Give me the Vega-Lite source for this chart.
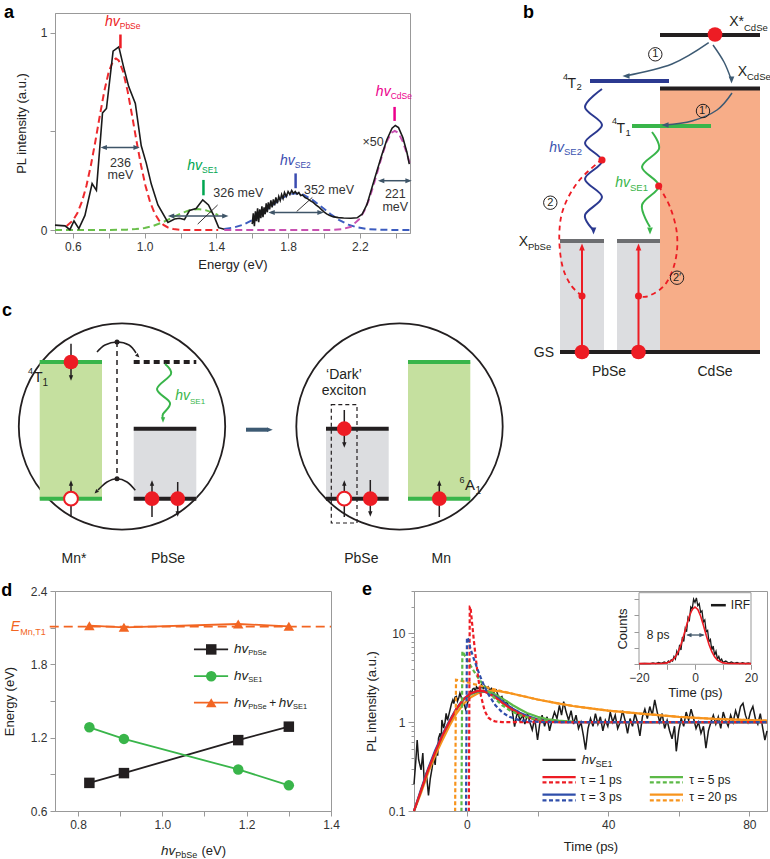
{
"$schema":"https://vega.github.io/schema/vega-lite/v6.json",
"padding":{"left":0,"top":3,"right":0,"bottom":0},
"config":{"font":"Liberation Sans","view":{"stroke":null},"axis":{"labelFontSize":12,"labelColor":"#333","titleFontSize":13,"titleFontWeight":"normal","titleColor":"#222","domainColor":"#999","tickColor":"#999","tickSize":5,"labelPadding":3,"grid":false,"labelFlush":false,"labelOverlap":false,"labelBound":false}},
"datasets":{
"a_fit":[
{"k":"PbSe","x":0.565,"y":0.02},{"k":"PbSe","x":0.6,"y":0.049},{"k":"PbSe","x":0.625,"y":0.086},{"k":"PbSe","x":0.65,"y":0.143},{"k":"PbSe","x":0.675,"y":0.223},{"k":"PbSe","x":0.7,"y":0.327},{"k":"PbSe","x":0.725,"y":0.449},{"k":"PbSe","x":0.75,"y":0.58},{"k":"PbSe","x":0.775,"y":0.704},{"k":"PbSe","x":0.8,"y":0.803},{"k":"PbSe","x":0.825,"y":0.86},{"k":"PbSe","x":0.84,"y":0.87},{"k":"PbSe","x":0.855,"y":0.86},{"k":"PbSe","x":0.88,"y":0.803},{"k":"PbSe","x":0.905,"y":0.704},{"k":"PbSe","x":0.93,"y":0.58},{"k":"PbSe","x":0.955,"y":0.449},{"k":"PbSe","x":0.98,"y":0.327},{"k":"PbSe","x":1.005,"y":0.223},{"k":"PbSe","x":1.03,"y":0.143},{"k":"PbSe","x":1.055,"y":0.086},{"k":"PbSe","x":1.08,"y":0.049},{"k":"PbSe","x":1.105,"y":0.026},{"k":"PbSe","x":1.13,"y":0.013},{"k":"PbSe","x":1.16,"y":0.005},{"k":"PbSe","x":1.2,"y":0.001},{"k":"PbSe","x":1.25,"y":0},{"k":"PbSe","x":1.41,"y":0},
{"k":"SE1","x":0.5,"y":0},{"k":"SE1","x":0.7,"y":0},{"k":"SE1","x":0.8,"y":0.0002},{"k":"SE1","x":0.9,"y":0.0018},{"k":"SE1","x":0.95,"y":0.0047},{"k":"SE1","x":1.0,"y":0.0107},{"k":"SE1","x":1.05,"y":0.0218},{"k":"SE1","x":1.1,"y":0.0389},{"k":"SE1","x":1.15,"y":0.0607},{"k":"SE1","x":1.2,"y":0.0833},{"k":"SE1","x":1.25,"y":0.1003},{"k":"SE1","x":1.296,"y":0.106},{"k":"SE1","x":1.34,"y":0.1007},{"k":"SE1","x":1.38,"y":0.0882},{"k":"SE1","x":1.41,"y":0.0755},
{"k":"SE2","x":1.444,"y":0.0055},{"k":"SE2","x":1.5,"y":0.0134},{"k":"SE2","x":1.55,"y":0.0273},{"k":"SE2","x":1.6,"y":0.0497},{"k":"SE2","x":1.65,"y":0.081},{"k":"SE2","x":1.7,"y":0.118},{"k":"SE2","x":1.75,"y":0.153},{"k":"SE2","x":1.8,"y":0.179},{"k":"SE2","x":1.843,"y":0.186},{"k":"SE2","x":1.886,"y":0.179},{"k":"SE2","x":1.936,"y":0.153},{"k":"SE2","x":1.986,"y":0.118},{"k":"SE2","x":2.036,"y":0.081},{"k":"SE2","x":2.086,"y":0.0497},{"k":"SE2","x":2.136,"y":0.0273},{"k":"SE2","x":2.186,"y":0.0134},{"k":"SE2","x":2.243,"y":0.0052},{"k":"SE2","x":2.3,"y":0.0017},{"k":"SE2","x":2.4,"y":0.0002},{"k":"SE2","x":2.48,"y":0},
{"k":"CdSe","x":1.444,"y":0},{"k":"CdSe","x":2.0,"y":0},{"k":"CdSe","x":2.05,"y":0.0006},{"k":"CdSe","x":2.1,"y":0.0036},{"k":"CdSe","x":2.15,"y":0.0166},{"k":"CdSe","x":2.2,"y":0.058},{"k":"CdSe","x":2.225,"y":0.097},{"k":"CdSe","x":2.25,"y":0.152},{"k":"CdSe","x":2.275,"y":0.222},{"k":"CdSe","x":2.3,"y":0.301},{"k":"CdSe","x":2.325,"y":0.381},{"k":"CdSe","x":2.35,"y":0.448},{"k":"CdSe","x":2.375,"y":0.492},{"k":"CdSe","x":2.395,"y":0.503},{"k":"CdSe","x":2.415,"y":0.492},{"k":"CdSe","x":2.44,"y":0.448},{"k":"CdSe","x":2.465,"y":0.381},{"k":"CdSe","x":2.48,"y":0.334}
],
"a_pl":[
{"seg":"1","x":0.5,"y":0.025},{"seg":"1","x":0.556,"y":0.021},{"seg":"1","x":0.583,"y":0.002},{"seg":"1","x":0.606,"y":0.046},{"seg":"1","x":0.633,"y":0.007},{"seg":"1","x":0.667,"y":0.074},{"seg":"1","x":0.707,"y":0.236},{"seg":"1","x":0.731,"y":0.201},{"seg":"1","x":0.765,"y":0.594},{"seg":"1","x":0.787,"y":0.616},{"seg":"1","x":0.824,"y":0.907},{"seg":"1","x":0.856,"y":0.928},{"seg":"1","x":0.881,"y":0.832},{"seg":"1","x":0.911,"y":0.727},{"seg":"1","x":0.948,"y":0.642},{"seg":"1","x":0.981,"y":0.427},{"seg":"1","x":1.009,"y":0.339},{"seg":"1","x":1.037,"y":0.233},{"seg":"1","x":1.074,"y":0.127},{"seg":"1","x":1.13,"y":0.039},{"seg":"1","x":1.167,"y":0.056},{"seg":"1","x":1.194,"y":0.06},{"seg":"1","x":1.222,"y":0.053},{"seg":"1","x":1.25,"y":0.099},{"seg":"1","x":1.287,"y":0.109},{"seg":"1","x":1.324,"y":0.153},{"seg":"1","x":1.356,"y":0.127},{"seg":"1","x":1.385,"y":0.074},{"seg":"1","x":1.413,"y":0.012},{"seg":"1","x":1.444,"y":0.004},
{"seg":"2","x":1.6,"y":0.03},{"seg":"2","x":1.606,"y":0.085},{"seg":"2","x":1.612,"y":0.02},{"seg":"2","x":1.618,"y":0.095},{"seg":"2","x":1.624,"y":0.045},{"seg":"2","x":1.63,"y":0.11},{"seg":"2","x":1.636,"y":0.04},{"seg":"2","x":1.642,"y":0.105},{"seg":"2","x":1.648,"y":0.06},{"seg":"2","x":1.654,"y":0.12},{"seg":"2","x":1.66,"y":0.065},{"seg":"2","x":1.666,"y":0.115},{"seg":"2","x":1.672,"y":0.08},{"seg":"2","x":1.678,"y":0.135},{"seg":"2","x":1.684,"y":0.09},{"seg":"2","x":1.69,"y":0.14},{"seg":"2","x":1.697,"y":0.105},{"seg":"2","x":1.704,"y":0.15},{"seg":"2","x":1.711,"y":0.115},{"seg":"2","x":1.718,"y":0.155},{"seg":"2","x":1.725,"y":0.125},{"seg":"2","x":1.732,"y":0.165},{"seg":"2","x":1.74,"y":0.135},{"seg":"2","x":1.748,"y":0.17},{"seg":"2","x":1.756,"y":0.15},{"seg":"2","x":1.764,"y":0.18},{"seg":"2","x":1.772,"y":0.16},{"seg":"2","x":1.78,"y":0.19},{"seg":"2","x":1.79,"y":0.17},{"seg":"2","x":1.8,"y":0.195},{"seg":"2","x":1.81,"y":0.18},{"seg":"2","x":1.82,"y":0.2},{"seg":"2","x":1.83,"y":0.185},{"seg":"2","x":1.84,"y":0.195},{"seg":"2","x":1.85,"y":0.182},{"seg":"2","x":1.86,"y":0.19},{"seg":"2","x":1.87,"y":0.175},{"seg":"2","x":1.88,"y":0.178},{"seg":"2","x":1.895,"y":0.165},{"seg":"2","x":1.91,"y":0.158},{"seg":"2","x":1.925,"y":0.148},{"seg":"2","x":1.94,"y":0.14},{"seg":"2","x":1.955,"y":0.128},{"seg":"2","x":1.97,"y":0.118},{"seg":"2","x":1.985,"y":0.105},{"seg":"2","x":2.0,"y":0.092},{"seg":"2","x":2.015,"y":0.082},{"seg":"2","x":2.03,"y":0.075},{"seg":"2","x":2.05,"y":0.068},{"seg":"2","x":2.08,"y":0.063},{"seg":"2","x":2.11,"y":0.061},{"seg":"2","x":2.15,"y":0.06},{"seg":"2","x":2.185,"y":0.062},{"seg":"2","x":2.213,"y":0.08},{"seg":"2","x":2.24,"y":0.13},{"seg":"2","x":2.268,"y":0.216},{"seg":"2","x":2.296,"y":0.3},{"seg":"2","x":2.324,"y":0.384},{"seg":"2","x":2.352,"y":0.46},{"seg":"2","x":2.38,"y":0.516},{"seg":"2","x":2.398,"y":0.53},{"seg":"2","x":2.416,"y":0.519},{"seg":"2","x":2.44,"y":0.469},{"seg":"2","x":2.463,"y":0.393},{"seg":"2","x":2.476,"y":0.334}
],
"d_pts":[
{"s":"PbSe","x":0.827,"y":0.83},{"s":"PbSe","x":0.909,"y":0.91},{"s":"PbSe","x":1.18,"y":1.18},{"s":"PbSe","x":1.3,"y":1.29},
{"s":"SE1","x":0.827,"y":1.285},{"s":"SE1","x":0.909,"y":1.19},{"s":"SE1","x":1.18,"y":0.94},{"s":"SE1","x":1.3,"y":0.81},
{"s":"sum","x":0.827,"y":2.116},{"s":"sum","x":0.909,"y":2.103},{"s":"sum","x":1.18,"y":2.13},{"s":"sum","x":1.3,"y":2.111}
],
"d_leg":[
{"s":"PbSe","x":1.075,"x2":1.156,"xm":1.116,"y":1.922},{"s":"SE1","x":1.075,"x2":1.156,"xm":1.116,"y":1.703},{"s":"sum","x":1.075,"x2":1.156,"xm":1.116,"y":1.486}
],
"e_pl":[
{"x":-15.0,"y":0.2},{"x":-14.5,"y":0.36},{"x":-14.1,"y":0.63},{"x":-13.7,"y":0.38},{"x":-13.0,"y":0.29},{"x":-12.5,"y":0.45},{"x":-12.1,"y":0.21},{"x":-11.5,"y":0.27},{"x":-10.9,"y":0.15},{"x":-10.4,"y":0.23},{"x":-9.9,"y":0.3},{"x":-9.45,"y":0.41},{"x":-9.0,"y":0.33},{"x":-8.7,"y":0.49},{"x":-8.3,"y":0.42},{"x":-8.05,"y":0.66},{"x":-7.6,"y":0.75},{"x":-7.3,"y":0.62},{"x":-7.1,"y":1.06},{"x":-6.6,"y":0.86},{"x":-6.2,"y":1.0},{"x":-5.9,"y":1.26},{"x":-5.5,"y":1.05},{"x":-5.2,"y":1.18},{"x":-4.8,"y":1.37},{"x":-4.4,"y":1.6},{"x":-4.0,"y":1.78},{"x":-3.7,"y":1.62},{"x":-3.4,"y":1.91},{"x":-3.0,"y":1.95},{"x":-2.7,"y":1.72},{"x":-2.3,"y":1.9},{"x":-2.0,"y":2.12},{"x":-1.5,"y":1.85},{"x":-1.2,"y":1.6},{"x":-0.8,"y":1.63},{"x":-0.4,"y":1.4},{"x":-0.1,"y":1.5},{"x":0.3,"y":1.72},{"x":0.65,"y":1.95},{"x":1.0,"y":2.2},{"x":1.3,"y":2.1},{"x":1.6,"y":2.35},{"x":2.0,"y":2.41},{"x":2.4,"y":2.25},{"x":2.7,"y":2.51},{"x":3.1,"y":2.38},{"x":3.5,"y":2.45},{"x":3.8,"y":2.3},{"x":4.1,"y":2.63},{"x":4.6,"y":2.4},{"x":5.05,"y":2.55},{"x":5.5,"y":2.35},{"x":6.0,"y":2.5},{"x":6.5,"y":2.28},{"x":6.9,"y":2.4},{"x":7.5,"y":2.15},{"x":8.3,"y":2.3},{"x":8.8,"y":2.0},{"x":9.3,"y":1.86},{"x":9.9,"y":1.95},{"x":10.7,"y":1.6},{"x":11.3,"y":1.7},{"x":12.1,"y":1.37},{"x":12.7,"y":1.45},{"x":13.5,"y":0.89},{"x":14.0,"y":1.15},{"x":14.4,"y":1.3},{"x":15.0,"y":1.05},{"x":15.8,"y":1.2},{"x":16.4,"y":0.95},{"x":17.2,"y":1.25},{"x":17.8,"y":1.0},{"x":18.5,"y":0.82},{"x":19.2,"y":1.1},{"x":20.0,"y":0.63},{"x":20.6,"y":0.95},{"x":21.3,"y":1.2},{"x":22.0,"y":0.9},{"x":22.7,"y":1.15},{"x":23.4,"y":0.8},{"x":24.1,"y":1.05},{"x":24.8,"y":1.3},{"x":25.5,"y":1.1},{"x":26.2,"y":1.55},{"x":26.8,"y":1.2},{"x":27.4,"y":1.7},{"x":28.1,"y":1.3},{"x":28.8,"y":1.05},{"x":29.5,"y":1.35},{"x":30.2,"y":0.95},{"x":30.9,"y":1.2},{"x":31.6,"y":0.85},{"x":32.3,"y":1.0},{"x":33.0,"y":0.7},{"x":33.6,"y":0.49},{"x":34.3,"y":0.85},{"x":35.0,"y":1.1},{"x":35.7,"y":0.9},{"x":36.4,"y":1.25},{"x":37.1,"y":0.95},{"x":37.8,"y":1.15},{"x":38.5,"y":0.8},{"x":39.2,"y":1.05},{"x":39.9,"y":0.9},{"x":40.6,"y":1.3},{"x":41.3,"y":1.0},{"x":42.0,"y":1.2},{"x":42.7,"y":0.85},{"x":43.4,"y":1.0},{"x":44.1,"y":1.35},{"x":44.8,"y":1.05},{"x":45.5,"y":0.75},{"x":46.2,"y":1.1},{"x":46.9,"y":0.9},{"x":47.6,"y":1.25},{"x":48.3,"y":1.0},{"x":49.0,"y":0.7},{"x":49.7,"y":1.15},{"x":50.4,"y":1.4},{"x":51.1,"y":1.1},{"x":51.8,"y":1.5},{"x":52.5,"y":1.2},{"x":53.2,"y":1.78},{"x":53.9,"y":1.3},{"x":54.6,"y":1.0},{"x":55.3,"y":1.25},{"x":56.0,"y":0.85},{"x":56.7,"y":1.05},{"x":57.4,"y":0.8},{"x":58.1,"y":0.65},{"x":58.8,"y":0.9},{"x":59.3,"y":0.47},{"x":60.0,"y":0.8},{"x":60.7,"y":1.1},{"x":61.4,"y":0.9},{"x":62.1,"y":1.3},{"x":62.8,"y":1.05},{"x":63.5,"y":1.4},{"x":64.2,"y":1.1},{"x":64.9,"y":0.85},{"x":65.6,"y":1.0},{"x":66.3,"y":0.75},{"x":67.0,"y":0.9},{"x":67.7,"y":0.51},{"x":68.4,"y":0.8},{"x":69.1,"y":1.0},{"x":69.8,"y":1.2},{"x":70.5,"y":0.95},{"x":71.2,"y":1.15},{"x":71.9,"y":0.85},{"x":72.6,"y":1.3},{"x":73.3,"y":1.05},{"x":74.0,"y":0.9},{"x":74.7,"y":1.2},{"x":75.4,"y":1.0},{"x":76.1,"y":1.35},{"x":76.8,"y":1.1},{"x":77.5,"y":1.5},{"x":78.2,"y":1.63},{"x":78.9,"y":1.2},{"x":79.6,"y":1.0},{"x":80.3,"y":1.3},{"x":81.0,"y":1.5},{"x":81.7,"y":1.1},{"x":82.4,"y":0.95},{"x":83.1,"y":1.25},{"x":83.8,"y":0.85},{"x":84.4,"y":0.63},{"x":85.0,"y":0.8}
],
"e_sol":[
{"m":"t20","x":-15,"y":0.1},{"m":"t20","x":-13,"y":0.16},{"m":"t20","x":-11,"y":0.27},{"m":"t20","x":-9,"y":0.42},{"m":"t20","x":-7,"y":0.62},{"m":"t20","x":-5,"y":0.9},{"m":"t20","x":-3,"y":1.25},{"m":"t20","x":-1,"y":1.6},{"m":"t20","x":1,"y":1.9},{"m":"t20","x":3,"y":2.1},{"m":"t20","x":5,"y":2.22},{"m":"t20","x":7,"y":2.27},{"m":"t20","x":9,"y":2.24},{"m":"t20","x":12,"y":2.13},{"m":"t20","x":16,"y":1.96},{"m":"t20","x":20,"y":1.8},{"m":"t20","x":25,"y":1.65},{"m":"t20","x":30,"y":1.52},{"m":"t20","x":35,"y":1.43},{"m":"t20","x":40,"y":1.35},{"m":"t20","x":50,"y":1.24},{"m":"t20","x":60,"y":1.15},{"m":"t20","x":70,"y":1.09},{"m":"t20","x":85,"y":1.04},
{"m":"t5","x":-15,"y":0.1},{"m":"t5","x":-13,"y":0.17},{"m":"t5","x":-11,"y":0.29},{"m":"t5","x":-9,"y":0.46},{"m":"t5","x":-7,"y":0.7},{"m":"t5","x":-5,"y":1.0},{"m":"t5","x":-3,"y":1.38},{"m":"t5","x":-1,"y":1.78},{"m":"t5","x":1,"y":2.05},{"m":"t5","x":3,"y":2.2},{"m":"t5","x":5,"y":2.24},{"m":"t5","x":7,"y":2.15},{"m":"t5","x":9,"y":1.95},{"m":"t5","x":11,"y":1.75},{"m":"t5","x":13,"y":1.55},{"m":"t5","x":15,"y":1.4},{"m":"t5","x":17,"y":1.27},{"m":"t5","x":20,"y":1.15},{"m":"t5","x":23,"y":1.08},{"m":"t5","x":26,"y":1.04},{"m":"t5","x":30,"y":1.01},{"m":"t5","x":85,"y":1.0},
{"m":"t3","x":-15,"y":0.1},{"m":"t3","x":-13,"y":0.175},{"m":"t3","x":-11,"y":0.3},{"m":"t3","x":-9,"y":0.48},{"m":"t3","x":-7,"y":0.72},{"m":"t3","x":-5,"y":1.03},{"m":"t3","x":-3,"y":1.42},{"m":"t3","x":-1,"y":1.82},{"m":"t3","x":1,"y":2.1},{"m":"t3","x":3,"y":2.24},{"m":"t3","x":5,"y":2.22},{"m":"t3","x":7,"y":2.05},{"m":"t3","x":9,"y":1.85},{"m":"t3","x":11,"y":1.6},{"m":"t3","x":13,"y":1.42},{"m":"t3","x":15,"y":1.28},{"m":"t3","x":17,"y":1.18},{"m":"t3","x":20,"y":1.08},{"m":"t3","x":23,"y":1.03},{"m":"t3","x":27,"y":1.0},{"m":"t3","x":85,"y":1.0},
{"m":"t1","x":-15,"y":0.1},{"m":"t1","x":-13,"y":0.17},{"m":"t1","x":-11,"y":0.29},{"m":"t1","x":-9,"y":0.46},{"m":"t1","x":-7,"y":0.7},{"m":"t1","x":-5,"y":1.0},{"m":"t1","x":-3,"y":1.4},{"m":"t1","x":-1,"y":1.8},{"m":"t1","x":1,"y":2.1},{"m":"t1","x":3,"y":2.25},{"m":"t1","x":4.5,"y":2.25},{"m":"t1","x":6,"y":2.12},{"m":"t1","x":8,"y":1.9},{"m":"t1","x":10,"y":1.65},{"m":"t1","x":12,"y":1.45},{"m":"t1","x":14,"y":1.3},{"m":"t1","x":16,"y":1.18},{"m":"t1","x":19,"y":1.08},{"m":"t1","x":22,"y":1.03},{"m":"t1","x":26,"y":1.0},{"m":"t1","x":85,"y":1.0}
],
"e_dash":[
{"m":"t20","x":-3.4,"y":0.05},{"m":"t20","x":-3.1,"y":3.0},{"m":"t20","x":-2,"y":2.95},{"m":"t20","x":0,"y":2.82},{"m":"t20","x":2,"y":2.68},{"m":"t20","x":5,"y":2.5},{"m":"t20","x":8,"y":2.33},{"m":"t20","x":12,"y":2.13},{"m":"t20","x":16,"y":1.96},{"m":"t20","x":20,"y":1.8},{"m":"t20","x":25,"y":1.65},{"m":"t20","x":30,"y":1.52},{"m":"t20","x":40,"y":1.35},{"m":"t20","x":50,"y":1.24},{"m":"t20","x":60,"y":1.15},{"m":"t20","x":70,"y":1.09},{"m":"t20","x":85,"y":1.04},
{"m":"t5","x":-1.6,"y":0.05},{"m":"t5","x":-1.3,"y":6.3},{"m":"t5","x":0,"y":5.1},{"m":"t5","x":1,"y":4.35},{"m":"t5","x":2,"y":3.74},{"m":"t5","x":3,"y":3.24},{"m":"t5","x":4,"y":2.84},{"m":"t5","x":5,"y":2.5},{"m":"t5","x":6,"y":2.23},{"m":"t5","x":8,"y":1.83},{"m":"t5","x":10,"y":1.55},{"m":"t5","x":12,"y":1.37},{"m":"t5","x":15,"y":1.2},{"m":"t5","x":18,"y":1.11},{"m":"t5","x":22,"y":1.05},{"m":"t5","x":27,"y":1.02},{"m":"t5","x":35,"y":1.0},{"m":"t5","x":85,"y":1.0},
{"m":"t1","x":0.5,"y":0.05},{"m":"t1","x":0.8,"y":20},{"m":"t1","x":1.0,"y":20},{"m":"t1","x":1.5,"y":12.5},{"m":"t1","x":2,"y":8},{"m":"t1","x":2.5,"y":5.3},{"m":"t1","x":3,"y":3.6},{"m":"t1","x":3.5,"y":2.6},{"m":"t1","x":4,"y":1.95},{"m":"t1","x":5,"y":1.35},{"m":"t1","x":6,"y":1.13},{"m":"t1","x":7,"y":1.05},{"m":"t1","x":8,"y":1.02},{"m":"t1","x":10,"y":1.0},{"m":"t1","x":85,"y":1.0},
{"m":"t3","x":-0.3,"y":0.05},{"m":"t3","x":0.0,"y":9.0},{"m":"t3","x":0.4,"y":8.5},{"m":"t3","x":1,"y":6.7},{"m":"t3","x":2,"y":5.1},{"m":"t3","x":3,"y":3.94},{"m":"t3","x":4,"y":3.1},{"m":"t3","x":5,"y":2.5},{"m":"t3","x":6,"y":2.08},{"m":"t3","x":8,"y":1.56},{"m":"t3","x":10,"y":1.29},{"m":"t3","x":12,"y":1.15},{"m":"t3","x":15,"y":1.05},{"m":"t3","x":18,"y":1.02},{"m":"t3","x":22,"y":1.0},{"m":"t3","x":85,"y":1.0}
],
"irf":[
{"x":-20,"y":0.01},{"x":-18,"y":0.015},{"x":-16,"y":0.01},{"x":-15,"y":0.02},{"x":-14,"y":0.012},{"x":-13,"y":0.03},{"x":-12,"y":0.015},{"x":-11,"y":0.035},{"x":-10,"y":0.02},{"x":-9.5,"y":0.05},{"x":-9,"y":0.03},{"x":-8.5,"y":0.07},{"x":-8,"y":0.05},{"x":-7.5,"y":0.12},{"x":-7,"y":0.08},{"x":-6.5,"y":0.2},{"x":-6,"y":0.14},{"x":-5.5,"y":0.3},{"x":-5,"y":0.22},{"x":-4.5,"y":0.42},{"x":-4,"y":0.35},{"x":-3.5,"y":0.55},{"x":-3,"y":0.5},{"x":-2.5,"y":0.72},{"x":-2,"y":0.68},{"x":-1.5,"y":0.88},{"x":-1,"y":0.85},{"x":-0.5,"y":1.0},{"x":0,"y":0.95},{"x":0.5,"y":1.02},{"x":1,"y":0.9},{"x":1.5,"y":0.93},{"x":2,"y":0.8},{"x":2.5,"y":0.82},{"x":3,"y":0.65},{"x":3.5,"y":0.68},{"x":4,"y":0.5},{"x":4.5,"y":0.52},{"x":5,"y":0.35},{"x":5.5,"y":0.38},{"x":6,"y":0.22},{"x":6.5,"y":0.28},{"x":7,"y":0.14},{"x":7.5,"y":0.2},{"x":8,"y":0.08},{"x":8.5,"y":0.12},{"x":9,"y":0.05},{"x":9.5,"y":0.08},{"x":10,"y":0.03},{"x":11,"y":0.05},{"x":12,"y":0.02},{"x":13,"y":0.035},{"x":14,"y":0.015},{"x":15,"y":0.03},{"x":16,"y":0.012},{"x":17,"y":0.025},{"x":18,"y":0.01},{"x":19,"y":0.02},{"x":20,"y":0.01}
],
"irf_fit":[
{"x":-20,"y":0.01},{"x":-12,"y":0.013},{"x":-10,"y":0.022},{"x":-8,"y":0.065},{"x":-7,"y":0.115},{"x":-6,"y":0.194},{"x":-5,"y":0.305},{"x":-4,"y":0.445},{"x":-3,"y":0.6},{"x":-2,"y":0.742},{"x":-1,"y":0.843},{"x":0,"y":0.88},{"x":1,"y":0.843},{"x":2,"y":0.742},{"x":3,"y":0.6},{"x":4,"y":0.445},{"x":5,"y":0.305},{"x":6,"y":0.194},{"x":7,"y":0.115},{"x":8,"y":0.065},{"x":10,"y":0.022},{"x":12,"y":0.013},{"x":20,"y":0.01}
]
},
"resolve":{"scale":{"color":"independent","shape":"independent"}},
"vconcat":[
{"resolve":{"scale":{"color":"independent","shape":"independent"}},"hconcat":[
 {"resolve":{"scale":{"color":"independent","shape":"independent"}},"vconcat":[
  {
   "width":355,"height":220,"view":{"stroke":"#999"},
   "encoding":{
    "x":{"field":"x","type":"quantitative","scale":{"domain":[0.5,2.48],"nice":false,"zero":false},"axis":{"values":[0.6,0.8,1.0,1.2,1.4,1.6,1.8,2.0,2.2,2.4],"format":".1f","labelExpr":"indexof(['0.6','1.0','1.4','1.8','2.2'], datum.label) >= 0 ? datum.label : ''","title":"Energy (eV)","titlePadding":6}},
    "y":{"field":"y","type":"quantitative","scale":{"domain":[-0.015,1.1],"nice":false,"zero":false},"axis":{"values":[0,0.5,1],"format":"~g","labelExpr":"datum.value == 0.5 ? '' : datum.label","title":"PL intensity (a.u.)","titlePadding":12}}
   },
   "resolve":{"scale":{"color":"independent"}},
   "layer":[
    {"data":{"name":"a_fit"},"mark":{"type":"line","strokeDash":[7,4],"strokeWidth":2},"encoding":{"color":{"field":"k","type":"nominal","scale":{"domain":["PbSe","SE1","SE2","CdSe"],"range":["#ee2a2e","#6abf4b","#3c5cbf","#c851b1"]},"legend":null}}},
    {"data":{"name":"a_pl"},"mark":{"type":"line","color":"#1a1a1a","strokeWidth":1.6},"encoding":{"detail":{"field":"seg","type":"nominal"}}},
    {"data":{"values":[{"k":"PbSe","x":0.865,"y":0.921,"y2":0.991},{"k":"SE1","x":1.328,"y":0.176,"y2":0.254},{"k":"SE2","x":1.842,"y":0.212,"y2":0.287},{"k":"CdSe","x":2.394,"y":0.553,"y2":0.624}]},"mark":{"type":"rule","strokeWidth":2.5},"encoding":{"y2":{"field":"y2"},"color":{"field":"k","type":"nominal","scale":{"domain":["PbSe","SE1","SE2","CdSe"],"range":["#ed1c24","#00a651","#3b4cb0","#ec008c"]},"legend":null}}},
    {"data":{"values":[{"x":0.768,"x2":0.959,"y":0.418},{"x":1.143,"x2":1.454,"y":0.071},{"x":1.704,"x2":1.985,"y":0.089},{"x":2.315,"x2":2.476,"y":0.25}]},"mark":{"type":"rule","color":"#3f5568","strokeWidth":1.5},"encoding":{"x2":{"field":"x2"}}},
    {"data":{"values":[{"x":0.772,"y":0.418,"dir":"left"},{"x":0.955,"y":0.418,"dir":"right"},{"x":1.147,"y":0.071,"dir":"left"},{"x":1.45,"y":0.071,"dir":"right"},{"x":1.708,"y":0.089,"dir":"left"},{"x":1.981,"y":0.089,"dir":"right"},{"x":2.319,"y":0.25,"dir":"left"},{"x":2.472,"y":0.25,"dir":"right"}]},"mark":{"type":"point","filled":true,"opacity":1,"color":"#3f5568","size":40},"encoding":{"shape":{"field":"dir","type":"nominal","scale":{"domain":["up","down","left","right","dl","dr"],"range":["M0,-1L0.8,1L-0.8,1Z","M0,1L0.8,-1L-0.8,-1Z","M-1,0L1,-0.8L1,0.8Z","M1,0L-1,-0.8L-1,0.8Z","M-0.71,0.71L0.92,0.08L-0.08,-0.92Z","M0.71,0.71L-0.92,0.08L0.08,-0.92Z"]},"legend":null}}},
    {"data":{"values":[{"x":1.296,"y":0.03,"x2":1.407,"y2":0.127},{"x":1.848,"y":0.094,"x2":1.935,"y2":0.165}]},"mark":{"type":"rule","color":"#231f20","strokeWidth":0.9},"encoding":{"x2":{"field":"x2"},"y2":{"field":"y2"}}},
    {"data":{"values":[{"x":0.865,"y":0.342,"t":"236"},{"x":0.865,"y":0.277,"t":"meV"},{"x":1.522,"y":0.19,"t":"326 meV"},{"x":2.028,"y":0.205,"t":"352 meV"},{"x":2.274,"y":0.444,"t":"×50"},{"x":2.398,"y":0.182,"t":"221"},{"x":2.398,"y":0.115,"t":"meV"}]},"mark":{"type":"text","fontSize":12.5,"color":"#333","baseline":"middle","align":"center"},"encoding":{"text":{"field":"t"}}},
    {"data":{"values":[{"x":0.861,"y":1.035,"t":"hv","k":"PbSe"},{"x":1.32,"y":0.303,"t":"hv","k":"SE1"},{"x":1.837,"y":0.33,"t":"hv","k":"SE2"},{"x":2.372,"y":0.68,"t":"hv","k":"CdSe"}]},"mark":{"type":"text","fontSize":14,"fontStyle":"italic","align":"right","baseline":"alphabetic"},"encoding":{"text":{"field":"t"},"color":{"field":"k","type":"nominal","scale":{"domain":["PbSe","SE1","SE2","CdSe"],"range":["#ed1c24","#00a651","#3b4cb0","#ec008c"]},"legend":null}}},
    {"data":{"values":[{"x":0.861,"y":1.02,"t":"PbSe","k":"PbSe"},{"x":1.32,"y":0.288,"t":"SE1","k":"SE1"},{"x":1.837,"y":0.315,"t":"SE2","k":"SE2"},{"x":2.372,"y":0.665,"t":"CdSe","k":"CdSe"}]},"mark":{"type":"text","fontSize":8.5,"align":"left","baseline":"alphabetic"},"encoding":{"text":{"field":"t"},"color":{"field":"k","type":"nominal","scale":{"domain":["PbSe","SE1","SE2","CdSe"],"range":["#ed1c24","#00a651","#3b4cb0","#ec008c"]},"legend":null}}},
    {"data":{"values":[{"x":0.2156,"y":1.1456,"t":"a"}]},"mark":{"type":"text","fontSize":18,"fontWeight":"bold","align":"left","baseline":"top","color":"#000"},"encoding":{"text":{"field":"t"}}}
   ]
  },
  {
   "width":462,"height":268,
   "encoding":{
    "x":{"field":"x","type":"quantitative","scale":{"domain":[53,515],"nice":false,"zero":false},"axis":null},
    "y":{"field":"y","type":"quantitative","scale":{"domain":[298,566],"nice":false,"zero":false,"reverse":true},"axis":null}
   },
   "layer":[
    {"data":{"values":[{"x":120,"y":424.5},{"x":397.5,"y":424.5}]},"mark":{"type":"point","filled":false,"color":"#231f20","strokeWidth":1.8,"size":42600,"opacity":1}},
    {"data":{"values":[{"x":37.7,"x2":100,"y":360,"y2":496.7,"k":"lgreen"},{"x":406,"x2":468.3,"y":360,"y2":496.7,"k":"lgreen"},{"x":131.7,"x2":194.3,"y":426.7,"y2":496.7,"k":"lgray"},{"x":324,"x2":386.7,"y":426.7,"y2":496.7,"k":"lgray"}]},"mark":{"type":"rect"},"encoding":{"x2":{"field":"x2"},"y2":{"field":"y2"},"color":{"field":"k","type":"nominal","scale":{"domain":["ink","red","blue","green","slate","gray","salmon","lgray","lgreen","sblue"],"range":["#231f20","#ed1c24","#2b3990","#39b54a","#3d5a73","#6d6e71","#f7ad88","#dcdde0","#c5e09f","#3a53b0"]},"legend":null}}},
    {"data":{"values":[{"x":329.3,"x2":355,"y":402.7,"y2":521}]},"mark":{"type":"rect","filled":false,"stroke":"#231f20","strokeWidth":1.2,"strokeDash":[4,3]},"encoding":{"x2":{"field":"x2"},"y2":{"field":"y2"}}},
    {"data":{"values":[{"x":37.7,"x2":100,"y":360,"k":"green"},{"x":37.7,"x2":100,"y":496.7,"k":"green"},{"x":406,"x2":468.3,"y":360,"k":"green"},{"x":406,"x2":468.3,"y":496.7,"k":"green"},{"x":131.7,"x2":194.3,"y":426.7,"k":"ink"},{"x":131.7,"x2":194.3,"y":496.7,"k":"ink"},{"x":324,"x2":386.7,"y":426.7,"k":"ink"},{"x":324,"x2":386.7,"y":496.7,"k":"ink"},{"x":244,"x2":266,"y":427.7,"k":"slate"}]},"mark":{"type":"rule","strokeWidth":4},"encoding":{"x2":{"field":"x2"},"color":{"field":"k","type":"nominal","scale":{"domain":["ink","red","blue","green","slate","gray","salmon","lgray","lgreen","sblue"],"range":["#231f20","#ed1c24","#2b3990","#39b54a","#3d5a73","#6d6e71","#f7ad88","#dcdde0","#c5e09f","#3a53b0"]},"legend":null}}},
    {"data":{"values":[{"x":131.7,"x2":194.3,"y":360}]},"mark":{"type":"rule","strokeWidth":4,"strokeDash":[6,4],"color":"#231f20"},"encoding":{"x2":{"field":"x2"}}},
    {"data":{"values":[{"x":115,"y":340,"y2":476.7}]},"mark":{"type":"rule","strokeWidth":1.5,"strokeDash":[5,4],"color":"#231f20"},"encoding":{"y2":{"field":"y2"}}},
    {"data":{"values":[{"x":69,"y":341.7,"y2":374},{"x":69,"y":515,"y2":483},{"x":150,"y":515,"y2":483},{"x":175.7,"y":480,"y2":510},{"x":342.3,"y":408,"y2":441},{"x":342.3,"y":515,"y2":483},{"x":368.3,"y":478,"y2":510},{"x":437.3,"y":515,"y2":483}]},"mark":{"type":"rule","strokeWidth":1.5,"color":"#231f20"},"encoding":{"y2":{"field":"y2"}}},
    {"data":{"values":[{"id":"top","x":95,"y":350},{"id":"top","x":103,"y":343},{"id":"top","x":115,"y":340},{"id":"top","x":127,"y":343},{"id":"top","x":134,"y":351},{"id":"bot","x":133.3,"y":488.3},{"id":"bot","x":125,"y":480},{"id":"bot","x":115,"y":476.7},{"id":"bot","x":105,"y":480},{"id":"bot","x":96,"y":488}]},"mark":{"type":"line","interpolate":"cardinal","strokeWidth":1.5,"color":"#231f20"},"encoding":{"detail":{"field":"id","type":"nominal"},"order":{"value":null}}},
    {"data":{"values":[{"x":163,"y":362},{"x":169,"y":372},{"x":155,"y":387},{"x":168,"y":401},{"x":161,"y":412},{"x":161,"y":416}]},"mark":{"type":"line","interpolate":"cardinal","strokeWidth":2,"color":"#39b54a"},"encoding":{"order":{"value":null}}},
    {"data":{"values":[{"x":69,"y":376,"dir":"down","k":"ink"},{"x":69,"y":481,"dir":"up","k":"ink"},{"x":150,"y":481,"dir":"up","k":"ink"},{"x":175.7,"y":512,"dir":"down","k":"ink"},{"x":342.3,"y":443,"dir":"down","k":"ink"},{"x":342.3,"y":481,"dir":"up","k":"ink"},{"x":368.3,"y":512,"dir":"down","k":"ink"},{"x":437.3,"y":481,"dir":"up","k":"ink"},{"x":135.5,"y":353.5,"dir":"dr","k":"ink"},{"x":94.5,"y":489.5,"dir":"dl","k":"ink"},{"x":161,"y":418,"dir":"down","k":"green"},{"x":268,"y":427.7,"dir":"right","k":"slate"}]},"mark":{"type":"point","filled":true,"opacity":1,"size":30},"encoding":{"shape":{"field":"dir","type":"nominal","scale":{"domain":["up","down","left","right","dl","dr"],"range":["M0,-1L0.8,1L-0.8,1Z","M0,1L0.8,-1L-0.8,-1Z","M-1,0L1,-0.8L1,0.8Z","M1,0L-1,-0.8L-1,0.8Z","M-0.71,0.71L0.92,0.08L-0.08,-0.92Z","M0.71,0.71L-0.92,0.08L0.08,-0.92Z"]},"legend":null},"color":{"field":"k","type":"nominal","scale":{"domain":["ink","red","blue","green","slate","gray","salmon","lgray","lgreen","sblue"],"range":["#231f20","#ed1c24","#2b3990","#39b54a","#3d5a73","#6d6e71","#f7ad88","#dcdde0","#c5e09f","#3a53b0"]},"legend":null}}},
    {"data":{"values":[{"x":69,"y":360},{"x":150,"y":496.7},{"x":175.7,"y":496.7},{"x":342.3,"y":426.7},{"x":368.3,"y":496.7},{"x":437.3,"y":496.7}]},"mark":{"type":"point","filled":true,"opacity":1,"color":"#ed1c24","size":216}},
    {"data":{"values":[{"x":69,"y":496.7},{"x":342.3,"y":496.7}]},"mark":{"type":"point","filled":true,"opacity":1,"fill":"#ffffff","stroke":"#ed1c24","strokeWidth":2,"size":190}},
    {"data":{"values":[{"x":115,"y":340},{"x":115,"y":476.7}]},"mark":{"type":"point","filled":true,"opacity":1,"color":"#231f20","size":25}},
    {"data":{"values":[{"x":31.5,"y":380,"t":"T"},{"x":463,"y":488,"t":"A"}]},"mark":{"type":"text","fontSize":15,"align":"left","baseline":"alphabetic","color":"#231f20"},"encoding":{"text":{"field":"t"}}},
    {"data":{"values":[{"x":40.5,"y":384,"t":"1"},{"x":473.5,"y":492,"t":"1"}]},"mark":{"type":"text","fontSize":10,"align":"left","baseline":"alphabetic","color":"#231f20"},"encoding":{"text":{"field":"t"}}},
    {"data":{"values":[{"x":31,"y":372,"t":"4"},{"x":462.5,"y":481,"t":"6"}]},"mark":{"type":"text","fontSize":9,"align":"right","baseline":"alphabetic","color":"#231f20"},"encoding":{"text":{"field":"t"}}},
    {"data":{"values":[{"x":188,"y":398,"t":"hv"}]},"mark":{"type":"text","fontSize":14,"fontStyle":"italic","align":"right","baseline":"alphabetic","color":"#39b54a"},"encoding":{"text":{"field":"t"}}},
    {"data":{"values":[{"x":188,"y":401.5,"t":"SE1"}]},"mark":{"type":"text","fontSize":8,"align":"left","baseline":"alphabetic","color":"#39b54a"},"encoding":{"text":{"field":"t"}}},
    {"data":{"values":[{"x":342,"y":377,"t":"‘Dark’"},{"x":342,"y":393,"t":"exciton"},{"x":72,"y":561,"t":"Mn*"},{"x":166,"y":561,"t":"PbSe"},{"x":359.3,"y":561,"t":"PbSe"},{"x":439.3,"y":561,"t":"Mn"}]},"mark":{"type":"text","fontSize":14,"align":"center","baseline":"alphabetic","color":"#231f20"},"encoding":{"text":{"field":"t"}}},
    {"data":{"values":[{"x":0,"y":300,"t":"c"}]},"mark":{"type":"text","fontSize":18,"fontWeight":"bold","align":"left","baseline":"top","color":"#000"},"encoding":{"text":{"field":"t"}}}
   ]
  }
 ],"spacing":28},
 {
  "width":255,"height":360,
  "encoding":{
   "x":{"field":"x","type":"quantitative","scale":{"domain":[515,770],"nice":false,"zero":false},"axis":null},
   "y":{"field":"y","type":"quantitative","scale":{"domain":[12,372],"nice":false,"zero":false,"reverse":true},"axis":null}
  },
  "layer":[
   {"data":{"values":[{"x":658,"x2":758,"y":87.5,"y2":351,"k":"salmon"},{"x":558,"x2":602,"y":240,"y2":351,"k":"lgray"},{"x":615,"x2":658,"y":240,"y2":351,"k":"lgray"}]},"mark":{"type":"rect"},"encoding":{"x2":{"field":"x2"},"y2":{"field":"y2"},"color":{"field":"k","type":"nominal","scale":{"domain":["ink","red","blue","green","slate","gray","salmon","lgray","lgreen","sblue"],"range":["#231f20","#ed1c24","#2b3990","#39b54a","#3d5a73","#6d6e71","#f7ad88","#dcdde0","#c5e09f","#3a53b0"]},"legend":null}}},
   {"data":{"values":[{"x":658,"x2":758,"y":34,"k":"ink"},{"x":588,"x2":667,"y":80,"k":"blue"},{"x":658,"x2":758,"y":87.5,"k":"ink"},{"x":630,"x2":709,"y":125,"k":"green"},{"x":558,"x2":602,"y":240,"k":"gray"},{"x":615,"x2":658,"y":240,"k":"gray"},{"x":558,"x2":758,"y":351,"k":"ink"}]},"mark":{"type":"rule","strokeWidth":4},"encoding":{"x2":{"field":"x2"},"color":{"field":"k","type":"nominal","scale":{"domain":["ink","red","blue","green","slate","gray","salmon","lgray","lgreen","sblue"],"range":["#231f20","#ed1c24","#2b3990","#39b54a","#3d5a73","#6d6e71","#f7ad88","#dcdde0","#c5e09f","#3a53b0"]},"legend":null}}},
   {"data":{"values":[{"x":580,"y":351,"y2":248},{"x":636.5,"y":351,"y2":248}]},"mark":{"type":"rule","strokeWidth":2,"color":"#ed1c24"},"encoding":{"y2":{"field":"y2"}}},
   {"data":{"values":[{"id":"2","x":600,"y":158.3},{"id":"2","x":576.7,"y":180},{"id":"2","x":561.7,"y":206.7},{"id":"2","x":557.3,"y":233.3},{"id":"2","x":560,"y":263.3},{"id":"2","x":568.3,"y":283.3},{"id":"2","x":580,"y":295},{"id":"2p","x":656.7,"y":185},{"id":"2p","x":668.3,"y":206.7},{"id":"2p","x":675,"y":233.3},{"id":"2p","x":673.3,"y":260},{"id":"2p","x":663.3,"y":283.3},{"id":"2p","x":646.7,"y":295},{"id":"2p","x":636.5,"y":295}]},"mark":{"type":"line","interpolate":"cardinal","strokeWidth":1.8,"strokeDash":[5,4],"color":"#ed1c24"},"encoding":{"detail":{"field":"id","type":"nominal"},"order":{"value":null}}},
   {"data":{"values":[{"k":"blue","x":600,"y":88},{"k":"blue","x":583,"y":106},{"k":"blue","x":600,"y":124},{"k":"blue","x":583,"y":142},{"k":"blue","x":600,"y":160},{"k":"blue","x":583,"y":178},{"k":"blue","x":600,"y":196},{"k":"blue","x":583,"y":214},{"k":"blue","x":591.5,"y":229},{"k":"green","x":650,"y":131},{"k":"green","x":657,"y":148},{"k":"green","x":640,"y":166},{"k":"green","x":657,"y":185},{"k":"green","x":640,"y":204},{"k":"green","x":648,"y":226}]},"mark":{"type":"line","interpolate":"cardinal","strokeWidth":2},"encoding":{"color":{"field":"k","type":"nominal","scale":{"domain":["ink","red","blue","green","slate","gray","salmon","lgray","lgreen","sblue"],"range":["#231f20","#ed1c24","#2b3990","#39b54a","#3d5a73","#6d6e71","#f7ad88","#dcdde0","#c5e09f","#3a53b0"]},"legend":null},"order":{"value":null}}},
   {"data":{"values":[{"id":"A","x":706.7,"y":41.7},{"id":"A","x":670,"y":63},{"id":"A","x":623,"y":75},{"id":"B","x":711,"y":44},{"id":"B","x":722,"y":61},{"id":"B","x":729,"y":78},{"id":"C","x":730,"y":92},{"id":"C","x":715,"y":109},{"id":"C","x":690,"y":120},{"id":"C","x":662,"y":124}]},"mark":{"type":"line","interpolate":"cardinal","strokeWidth":1.5,"color":"#3d5a73"},"encoding":{"detail":{"field":"id","type":"nominal"},"order":{"value":null}}},
   {"data":{"values":[{"x":580,"y":246,"dir":"up","k":"red"},{"x":636.5,"y":246,"dir":"up","k":"red"},{"x":591.5,"y":230,"dir":"down","k":"blue"},{"x":648,"y":230,"dir":"down","k":"green"},{"x":624,"y":75,"dir":"left","k":"slate"},{"x":729.5,"y":79,"dir":"down","k":"slate"},{"x":663,"y":124,"dir":"left","k":"slate"}]},"mark":{"type":"point","filled":true,"opacity":1,"size":50},"encoding":{"shape":{"field":"dir","type":"nominal","scale":{"domain":["up","down","left","right","dl","dr"],"range":["M0,-1L0.8,1L-0.8,1Z","M0,1L0.8,-1L-0.8,-1Z","M-1,0L1,-0.8L1,0.8Z","M1,0L-1,-0.8L-1,0.8Z","M-0.71,0.71L0.92,0.08L-0.08,-0.92Z","M0.71,0.71L-0.92,0.08L0.08,-0.92Z"]},"legend":null},"color":{"field":"k","type":"nominal","scale":{"domain":["ink","red","blue","green","slate","gray","salmon","lgray","lgreen","sblue"],"range":["#231f20","#ed1c24","#2b3990","#39b54a","#3d5a73","#6d6e71","#f7ad88","#dcdde0","#c5e09f","#3a53b0"]},"legend":null}}},
   {"data":{"values":[{"x":580,"y":351},{"x":636.5,"y":351},{"x":713,"y":33.5}]},"mark":{"type":"point","filled":true,"opacity":1,"color":"#ed1c24","size":216}},
   {"data":{"values":[{"x":580,"y":295},{"x":636.5,"y":295},{"x":600,"y":159},{"x":656.7,"y":185}]},"mark":{"type":"point","filled":true,"opacity":1,"color":"#ed1c24","size":50}},
   {"data":{"values":[{"x":653.3,"y":53.3,"t":"1"},{"x":701,"y":110,"t":"1′"},{"x":548.3,"y":201.7,"t":"2"},{"x":675,"y":276.7,"t":"2′"}]},"mark":{"type":"point","filled":false,"opacity":1,"color":"#231f20","strokeWidth":1,"size":180}},
   {"data":{"values":[{"x":653.3,"y":53.3,"t":"1"},{"x":701,"y":110,"t":"1′"},{"x":548.3,"y":201.7,"t":"2"},{"x":675,"y":276.7,"t":"2′"}]},"mark":{"type":"text","fontSize":11,"align":"center","baseline":"middle","color":"#231f20"},"encoding":{"text":{"field":"t"}}},
   {"data":{"values":[{"x":742,"y":25,"t":"X*"},{"x":745,"y":75,"t":"X"},{"x":526,"y":245,"t":"X"},{"x":552,"y":356,"t":"GS"},{"x":574,"y":86.5,"t":"T"},{"x":623,"y":131.5,"t":"T"}]},"mark":{"type":"text","fontSize":14,"align":"right","baseline":"alphabetic","color":"#231f20"},"encoding":{"text":{"field":"t"}}},
   {"data":{"values":[{"x":742,"y":30,"t":"CdSe","k":"ink"},{"x":745,"y":79,"t":"CdSe","k":"ink"},{"x":526,"y":249,"t":"PbSe","k":"ink"},{"x":574.5,"y":89,"t":"2","k":"ink"},{"x":623.5,"y":134.5,"t":"1","k":"ink"},{"x":562,"y":154,"t":"SE2","k":"sblue"},{"x":628,"y":189.5,"t":"SE1","k":"green"}]},"mark":{"type":"text","fontSize":9.5,"align":"left","baseline":"alphabetic"},"encoding":{"text":{"field":"t"},"color":{"field":"k","type":"nominal","scale":{"domain":["ink","red","blue","green","slate","gray","salmon","lgray","lgreen","sblue"],"range":["#231f20","#ed1c24","#2b3990","#39b54a","#3d5a73","#6d6e71","#f7ad88","#dcdde0","#c5e09f","#3a53b0"]},"legend":null}}},
   {"data":{"values":[{"x":566,"y":79,"t":"4"},{"x":615,"y":123,"t":"4"}]},"mark":{"type":"text","fontSize":9,"align":"right","baseline":"alphabetic","color":"#231f20"},"encoding":{"text":{"field":"t"}}},
   {"data":{"values":[{"x":562,"y":151,"t":"hv","k":"sblue"},{"x":628,"y":186,"t":"hv","k":"green"}]},"mark":{"type":"text","fontSize":14,"fontStyle":"italic","align":"right","baseline":"alphabetic"},"encoding":{"text":{"field":"t"},"color":{"field":"k","type":"nominal","scale":{"domain":["ink","red","blue","green","slate","gray","salmon","lgray","lgreen","sblue"],"range":["#231f20","#ed1c24","#2b3990","#39b54a","#3d5a73","#6d6e71","#f7ad88","#dcdde0","#c5e09f","#3a53b0"]},"legend":null}}},
   {"data":{"values":[{"x":607,"y":375,"t":"PbSe"},{"x":713,"y":375,"t":"CdSe"}]},"mark":{"type":"text","fontSize":14,"align":"center","baseline":"alphabetic","color":"#231f20"},"encoding":{"text":{"field":"t"}}},
   {"data":{"values":[{"x":521,"y":3,"t":"b"}]},"mark":{"type":"text","fontSize":18,"fontWeight":"bold","align":"left","baseline":"top","color":"#000"},"encoding":{"text":{"field":"t"}}}
  ]
 }
],"spacing":0},
{"resolve":{"scale":{"color":"independent","shape":"independent"}},"hconcat":[
 {
  "width":276,"height":220,"view":{"stroke":"#999"},
  "encoding":{
   "x":{"field":"x","type":"quantitative","scale":{"domain":[0.7455,1.4],"nice":false,"zero":false},"axis":{"values":[0.8,0.9,1.0,1.1,1.2,1.3,1.4],"format":".1f","labelExpr":"indexof(['0.8','1.0','1.2','1.4'], datum.label) >= 0 ? datum.label : ''","title":null}},
   "y":{"field":"y","type":"quantitative","scale":{"domain":[0.6,2.4],"nice":false,"zero":false},"axis":{"values":[0.6,0.9,1.2,1.5,1.8,2.1,2.4],"format":".1f","labelExpr":"indexof(['0.6','1.2','1.8','2.4'], datum.label) >= 0 ? datum.label : ''","title":"Energy (eV)","titlePadding":14}}
  },
  "layer":[
   {"data":{"values":[{"x":0.733,"x2":1.4,"y":2.108}]},"mark":{"type":"rule","color":"#f26522","strokeWidth":1.8,"strokeDash":[9,5]},"encoding":{"x2":{"field":"x2"}}},
   {"data":{"name":"d_pts"},"mark":{"type":"line","strokeWidth":1.8},"encoding":{"color":{"field":"s","type":"nominal","scale":{"domain":["PbSe","SE1","sum"],"range":["#231f20","#39b54a","#f26522"]},"legend":null}}},
   {"data":{"name":"d_pts"},"mark":{"type":"point","filled":true,"opacity":1,"size":110},"encoding":{"color":{"field":"s","type":"nominal","scale":{"domain":["PbSe","SE1","sum"],"range":["#231f20","#39b54a","#f26522"]},"legend":null},"shape":{"field":"s","type":"nominal","scale":{"domain":["PbSe","SE1","sum"],"range":["square","circle","triangle-up"]},"legend":null}}},
   {"data":{"name":"d_leg"},"mark":{"type":"rule","strokeWidth":1.8},"encoding":{"x2":{"field":"x2"},"color":{"field":"s","type":"nominal","scale":{"domain":["PbSe","SE1","sum"],"range":["#231f20","#39b54a","#f26522"]},"legend":null}}},
   {"data":{"name":"d_leg"},"mark":{"type":"point","filled":true,"opacity":1,"size":110},"encoding":{"x":{"field":"xm","type":"quantitative"},"color":{"field":"s","type":"nominal","scale":{"domain":["PbSe","SE1","sum"],"range":["#231f20","#39b54a","#f26522"]},"legend":null},"shape":{"field":"s","type":"nominal","scale":{"domain":["PbSe","SE1","sum"],"range":["square","circle","triangle-up"]},"legend":null}}},
   {"data":{"values":[{"x":1.204,"y":1.922,"t":"hv"},{"x":1.204,"y":1.703,"t":"hv"},{"x":1.204,"y":1.486,"t":"hv"},{"x":1.31,"y":1.486,"t":"hv"},{"x":1.0305,"y":0.27,"t":"hv"}]},"mark":{"type":"text","fontSize":13.5,"fontStyle":"italic","align":"right","baseline":"middle","color":"#231f20"},"encoding":{"text":{"field":"t"}}},
   {"data":{"values":[{"x":1.204,"y":1.922,"t":"PbSe"},{"x":1.204,"y":1.703,"t":"SE1"},{"x":1.204,"y":1.486,"t":"PbSe"},{"x":1.31,"y":1.486,"t":"SE1"}]},"mark":{"type":"text","fontSize":7.5,"align":"left","baseline":"middle","dy":4,"color":"#231f20"},"encoding":{"text":{"field":"t"}}},
   {"data":{"values":[{"x":1.0305,"y":0.27,"t":"PbSe"}]},"mark":{"type":"text","fontSize":9,"align":"left","baseline":"middle","dy":4,"color":"#231f20"},"encoding":{"text":{"field":"t"}}},
   {"data":{"values":[{"x":1.262,"y":1.486,"t":"+"}]},"mark":{"type":"text","fontSize":12,"align":"center","baseline":"middle","color":"#231f20"},"encoding":{"text":{"field":"t"}}},
   {"data":{"values":[{"x":1.093,"y":0.27,"t":"(eV)"}]},"mark":{"type":"text","fontSize":13,"align":"left","baseline":"middle","color":"#222"},"encoding":{"text":{"field":"t"}}},
   {"data":{"values":[{"x":0.663,"y":2.108,"t":"E"}]},"mark":{"type":"text","fontSize":14,"fontStyle":"italic","align":"right","baseline":"middle","color":"#f26522"},"encoding":{"text":{"field":"t"}}},
   {"data":{"values":[{"x":0.663,"y":2.108,"t":"Mn,T1"}]},"mark":{"type":"text","fontSize":9,"align":"left","baseline":"middle","dy":5,"color":"#f26522"},"encoding":{"text":{"field":"t"}}},
   {"data":{"values":[{"x":0.6183,"y":2.4737,"t":"d"}]},"mark":{"type":"text","fontSize":18,"fontWeight":"bold","align":"left","baseline":"top","color":"#000"},"encoding":{"text":{"field":"t"}}}
  ]
 },
 {
  "width":353,"height":220,"view":{"stroke":"#999"},
  "resolve":{"scale":{"x":"independent","y":"independent"},"axis":{"x":"independent","y":"independent"}},
  "layer":[
   {
    "encoding":{
     "x":{"field":"x","type":"quantitative","scale":{"domain":[-15,85],"nice":false,"zero":false},"axis":{"values":[0,20,40,60,80],"labelExpr":"datum.value % 40 == 0 ? datum.label : ''","title":"Time (ps)","titlePadding":10}},
     "y":{"field":"y","type":"quantitative","scale":{"type":"log","domain":[0.1,30],"nice":false},"axis":{"values":[0.1,0.2,0.3,0.4,0.5,0.6,0.7,0.8,0.9,1,2,3,4,5,6,7,8,9,10,20,30],"format":"~g","labelExpr":"indexof([0.1,1,10], datum.value) >= 0 ? datum.label : ''","tickSize":{"condition":{"test":"indexof([0.1,1,10], datum.value) >= 0","value":6},"value":3},"title":"PL intensity (a.u.)","titlePadding":10}}
    },
    "layer":[
     {"data":{"name":"e_pl"},"mark":{"type":"line","color":"#1a1a1a","strokeWidth":1.5}},
     {"data":{"name":"e_sol"},"mark":{"type":"line","strokeWidth":2.2},"encoding":{"color":{"field":"m","type":"nominal","scale":{"domain":["SE1","t1","t3","t5","t20"],"range":["#231f20","#ed1c24","#2f4eaa","#5cb947","#f7941d"]},"legend":null}}},
     {"data":{"name":"e_dash"},"mark":{"type":"line","strokeWidth":2.2,"strokeDash":[4,2.5],"clip":true},"encoding":{"color":{"field":"m","type":"nominal","scale":{"domain":["SE1","t1","t3","t5","t20"],"range":["#231f20","#ed1c24","#2f4eaa","#5cb947","#f7941d"]},"legend":null}}},
     {"data":{"values":[{"m":"SE1","x":21.4,"x2":30.8,"y":0.377},{"m":"t1","x":21.4,"x2":30.8,"y":0.241},{"m":"t3","x":21.4,"x2":30.8,"y":0.153},{"m":"t5","x":51.8,"x2":61.2,"y":0.241},{"m":"t20","x":51.8,"x2":61.2,"y":0.153}]},"mark":{"type":"rule","strokeWidth":2.2},"encoding":{"x2":{"field":"x2"},"color":{"field":"m","type":"nominal","scale":{"domain":["SE1","t1","t3","t5","t20"],"range":["#231f20","#ed1c24","#2f4eaa","#5cb947","#f7941d"]},"legend":null}}},
     {"data":{"values":[{"m":"t1","x":21.4,"x2":30.8,"y":0.21},{"m":"t3","x":21.4,"x2":30.8,"y":0.132},{"m":"t5","x":51.8,"x2":61.2,"y":0.21},{"m":"t20","x":51.8,"x2":61.2,"y":0.132}]},"mark":{"type":"rule","strokeWidth":2.2,"strokeDash":[4,2.5]},"encoding":{"x2":{"field":"x2"},"color":{"field":"m","type":"nominal","scale":{"domain":["SE1","t1","t3","t5","t20"],"range":["#231f20","#ed1c24","#2f4eaa","#5cb947","#f7941d"]},"legend":null}}},
     {"data":{"values":[{"x":36.4,"y":0.377,"t":"hv"}]},"mark":{"type":"text","fontSize":13,"fontStyle":"italic","align":"right","baseline":"middle","color":"#231f20"},"encoding":{"text":{"field":"t"}}},
     {"data":{"values":[{"x":36.4,"y":0.377,"t":"SE1"}]},"mark":{"type":"text","fontSize":9,"align":"left","baseline":"middle","dy":4,"color":"#231f20"},"encoding":{"text":{"field":"t"}}},
     {"data":{"values":[{"x":32.2,"y":0.225,"t":"τ = 1 ps"},{"x":32.2,"y":0.142,"t":"τ = 3 ps"},{"x":63,"y":0.225,"t":"τ = 5 ps"},{"x":63,"y":0.142,"t":"τ = 20 ps"}]},"mark":{"type":"text","fontSize":12,"align":"left","baseline":"middle","color":"#231f20"},"encoding":{"text":{"field":"t"}}},
     {"data":{"values":[{"x":-29.73,"y":38.9,"t":"e"}]},"mark":{"type":"text","fontSize":18,"fontWeight":"bold","align":"left","baseline":"top","color":"#000"},"encoding":{"text":{"field":"t"}}}
    ]
   },
   {
    "encoding":{
     "x":{"field":"x","type":"quantitative","scale":{"domain":[-20,20],"range":[225,337],"nice":false,"zero":false},"axis":{"orient":"bottom","offset":-146.7,"values":[-20,-10,0,10,20],"labelExpr":"datum.value % 20 == 0 ? datum.label : ''","domain":false,"title":"Time (ps)","titlePadding":3}},
     "y":{"field":"y","type":"quantitative","scale":{"domain":[0,1.1],"range":[73.3,1.7],"nice":false,"zero":false},"axis":{"orient":"left","offset":-225,"values":[0,0.25,0.5,0.75,1],"labels":false,"domain":false,"title":"Counts","titlePadding":4}}
    },
    "layer":[
     {"data":{"values":[{"x":-20,"x2":20,"y":0,"y2":1.1}]},"mark":{"type":"rect","fill":"#ffffff","stroke":"#999","strokeWidth":1},"encoding":{"x2":{"field":"x2"},"y2":{"field":"y2"}}},
     {"data":{"name":"irf"},"mark":{"type":"line","color":"#1a1a1a","strokeWidth":1.3}},
     {"data":{"name":"irf_fit"},"mark":{"type":"line","color":"#ed1c24","strokeWidth":1.6}},
     {"data":{"values":[{"x":5.7,"x2":11,"y":0.908}]},"mark":{"type":"rule","color":"#1a1a1a","strokeWidth":2.5},"encoding":{"x2":{"field":"x2"}}},
     {"data":{"values":[{"x":12.8,"y":0.908,"t":"IRF"}]},"mark":{"type":"text","fontSize":12,"align":"left","baseline":"middle","color":"#231f20"},"encoding":{"text":{"field":"t"}}},
     {"data":{"values":[{"x":-13.2,"y":0.45,"t":"8 ps"}]},"mark":{"type":"text","fontSize":12,"align":"center","baseline":"middle","color":"#231f20"},"encoding":{"text":{"field":"t"}}},
     {"data":{"values":[{"x":-2.7,"x2":3.0,"y":0.45}]},"mark":{"type":"rule","color":"#3f5568","strokeWidth":1.3},"encoding":{"x2":{"field":"x2"}}},
     {"data":{"values":[{"x":-2.2,"y":0.45,"dir":"left"},{"x":2.5,"y":0.45,"dir":"right"}]},"mark":{"type":"point","filled":true,"opacity":1,"color":"#3f5568","size":28},"encoding":{"shape":{"field":"dir","type":"nominal","scale":{"domain":["up","down","left","right","dl","dr"],"range":["M0,-1L0.8,1L-0.8,1Z","M0,1L0.8,-1L-0.8,-1Z","M-1,0L1,-0.8L1,0.8Z","M1,0L-1,-0.8L-1,0.8Z","M-0.71,0.71L0.92,0.08L-0.08,-0.92Z","M0.71,0.71L-0.92,0.08L0.08,-0.92Z"]},"legend":null}}}
    ]
   }
  ]
 }
],"spacing":21}
],
"spacing":12
}
